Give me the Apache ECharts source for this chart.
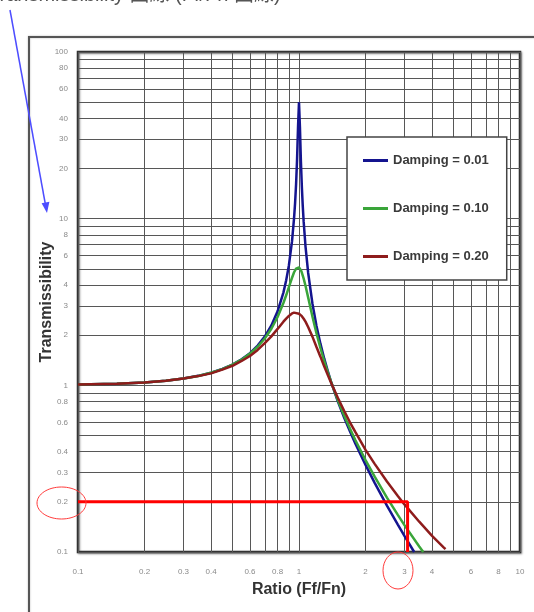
<!DOCTYPE html>
<html>
<head>
<meta charset="utf-8">
<style>
html,body{margin:0;padding:0;background:#fff;}
#chart{width:534px;height:612px;}
</style>
<script src="https://cdn.jsdelivr.net/npm/echarts@6/dist/echarts.min.js"></script>
</head>
<body>
<div id="chart"></div>
<script>
// ---- data ----
const seriesNames = ['Damping = 0.01', 'Damping = 0.10', 'Damping = 0.20'];

const ratio01 = [0.1,0.15,0.2,0.25,0.3,0.35,0.4,0.45,0.5,0.55,0.6,0.65,0.7,0.75,0.8,0.85,0.875,0.9,0.93,0.95,0.96,0.97,0.98,0.99,1.0,1.01,1.02,1.03,1.04,1.05,1.07,1.1,1.15,1.2,1.25,1.3,1.35,1.4,1.5,1.6,1.7,1.8,2,2.2,2.5,2.8,3,3.32];
const trans01 = [1.01,1.023,1.04,1.067,1.10,1.14,1.19,1.254,1.33,1.434,1.56,1.732,1.96,2.286,2.78,3.60,4.27,5.24,7.33,10.1,12.4,16.1,22.6,35.6,50,35.1,22.1,15.6,11.9,9.56,6.83,4.74,3.10,2.27,1.778,1.45,1.216,1.04,0.80,0.641,0.53,0.446,0.333,0.260,0.19,0.146,0.125,0.1];

const ratio10 = [0.1,0.15,0.2,0.25,0.3,0.35,0.4,0.45,0.5,0.55,0.6,0.65,0.7,0.75,0.8,0.85,0.875,0.9,0.93,0.95,0.97,0.98,1.0,1.02,1.03,1.05,1.07,1.1,1.15,1.2,1.25,1.3,1.35,1.4,1.5,1.6,1.7,1.8,2,2.2,2.5,2.8,3,3.5,3.65];
const trans10 = [1.01,1.023,1.04,1.066,1.10,1.139,1.19,1.251,1.33,1.425,1.55,1.704,1.91,2.186,2.57,3.12,3.47,3.88,4.42,4.77,5.02,5.10,5.10,4.91,4.75,4.37,3.96,3.37,2.59,2.05,1.675,1.40,1.197,1.04,0.81,0.659,0.55,0.4685,0.356,0.283,0.212,0.167,0.145,0.108,0.100];

const ratio20 = [0.1,0.15,0.2,0.25,0.3,0.35,0.4,0.45,0.5,0.55,0.6,0.65,0.7,0.75,0.8,0.85,0.875,0.9,0.93,0.95,0.97,1.0,1.03,1.05,1.07,1.1,1.15,1.2,1.25,1.3,1.35,1.4,1.5,1.6,1.7,1.8,2,2.2,2.5,2.8,3,3.5,4,4.5,4.6];
const trans20 = [1.01,1.023,1.04,1.066,1.10,1.136,1.18,1.243,1.31,1.40,1.50,1.631,1.79,1.968,2.18,2.41,2.515,2.61,2.70,2.73,2.73,2.69,2.60,2.51,2.41,2.24,1.96,1.70,1.486,1.30,1.155,1.03,0.84,0.704,0.60,0.524,0.41,0.338,0.265,0.217,0.193,0.152,0.125,0.107,0.104];

// red guide (annotation) line
const guideX = [0.1, 3.1, 3.1];
const guideY = [0.2, 0.2, 0.1];

// tick / grid values
const xLabelValues = [0.1,0.2,0.3,0.4,0.6,0.8,1,2,3,4,6,8,10];
const xGridValues  = [0.1,0.2,0.3,0.4,0.5,0.6,0.7,0.8,0.9,1,2,3,4,5,6,7,8,9,10];
const yLabelValues = [0.1,0.2,0.3,0.4,0.6,0.8,1,2,3,4,6,8,10,20,30,40,60,80,100];
const yGridValues  = [0.1,0.2,0.3,0.4,0.5,0.6,0.7,0.8,0.9,1,2,3,4,5,6,7,8,9,10,20,30,40,50,60,70,80,90,100];

const pairs = (xs, ys) => xs.map((x, i) => [x, ys[i]]);
const fmt = v => String(+Number(v).toPrecision(3));

const chart = echarts.init(document.getElementById('chart'), null, {renderer: 'canvas'});
const gridColor = '#575757';
const font = 'Liberation Sans, Arial, sans-serif';

chart.setOption({
  animation: false,
  backgroundColor: '#fff',
  grid: {
    left: 78, top: 52, right: 14, bottom: 60,
    show: true, backgroundColor: '#fff',
    borderColor: '#333', borderWidth: 2.5,
    shadowColor: 'rgba(0,0,0,0.35)', shadowBlur: 2, shadowOffsetX: 1, shadowOffsetY: 1
  },
  legend: {
    data: seriesNames.map(n => ({name: n, icon: 'rect'})),
    orient: 'vertical',
    left: 347, top: 137,
    padding: [17, 18, 17, 16],
    itemGap: 35,
    itemWidth: 25, itemHeight: 3,
    backgroundColor: '#fff',
    borderColor: '#444', borderWidth: 1.5,
    textStyle: {fontFamily: font, fontSize: 13, fontWeight: 'bold', color: '#3a3a3a'}
  },
  xAxis: {
    type: 'log', logBase: 10, min: 0.1, max: 10,
    name: 'Ratio (Ff/Fn)', nameLocation: 'middle', nameGap: 30, nameMoveOverlap: false,
    nameTextStyle: {fontFamily: font, fontSize: 16, fontWeight: 'bold', color: '#333'},
    axisLine: {show: false},
    axisTick: {show: false, customValues: xGridValues},
    axisLabel: {customValues: xLabelValues, formatter: fmt, fontSize: 8, color: '#8a8a8a', margin: 16, fontFamily: font},
    splitLine: {show: true, lineStyle: {color: gridColor, width: 1}},
    minorSplitLine: {show: false}
  },
  yAxis: {
    type: 'log', logBase: 10, min: 0.1, max: 100,
    name: 'Transmissibility', nameLocation: 'middle', nameGap: 23, nameRotate: 90, nameMoveOverlap: false,
    nameTextStyle: {fontFamily: font, fontSize: 16, fontWeight: 'bold', color: '#333'},
    axisLine: {show: false},
    axisTick: {show: false, customValues: yGridValues},
    axisLabel: {customValues: yLabelValues, formatter: fmt, fontSize: 8, color: '#8a8a8a', margin: 10, fontFamily: font},
    splitLine: {show: true, lineStyle: {color: gridColor, width: 1}},
    minorSplitLine: {show: false}
  },
  series: [
    {name: seriesNames[0], type: 'line', data: pairs(ratio01, trans01), symbol: 'none', smooth: false,
      lineStyle: {color: '#14148f', width: 2.5}, itemStyle: {color: '#14148f'}, z: 3},
    {name: seriesNames[1], type: 'line', data: pairs(ratio10, trans10), symbol: 'none', smooth: false,
      lineStyle: {color: '#3aa53a', width: 2.5}, itemStyle: {color: '#3aa53a'}, z: 4},
    {name: seriesNames[2], type: 'line', data: pairs(ratio20, trans20), symbol: 'none', smooth: false,
      lineStyle: {color: '#8e1c1c', width: 2.5}, itemStyle: {color: '#8e1c1c'}, z: 5},
    {name: 'guide', type: 'line', data: pairs(guideX, guideY), symbol: 'none', silent: true,
      lineStyle: {color: '#ff0000', width: 3}, z: 6}
  ],
  graphic: [
    {type: 'rect', z: -10, shape: {x: 29, y: 37, width: 530, height: 620},
      style: {fill: 'none', stroke: '#555', lineWidth: 2, shadowColor: 'rgba(0,0,0,0.3)', shadowBlur: 2}},
    {type: 'text', z: 10, left: -12, top: -15,
      style: {text: 'Transmissibility 曲線 (Ff/Fn 曲線)', fontSize: 20, fill: '#555',
        fontFamily: 'Liberation Sans, Noto Sans CJK TC, sans-serif'}},
    {type: 'ellipse', z: 20, shape: {cx: 61.5, cy: 503, rx: 24.5, ry: 16},
      style: {fill: 'none', stroke: '#ff3b3b', lineWidth: 1}},
    {type: 'ellipse', z: 20, shape: {cx: 398, cy: 570.5, rx: 15, ry: 18.5},
      style: {fill: 'none', stroke: '#ff3b3b', lineWidth: 1}},
    {type: 'line', z: 20, shape: {x1: 10, y1: 10, x2: 45.5, y2: 205},
      style: {stroke: '#4d4dff', lineWidth: 1.5}},
    {type: 'polygon', z: 20, shape: {points: [[47, 213], [49.4, 201.8], [41.6, 203.2]]},
      style: {fill: '#4d4dff'}}
  ]
});
</script>
</body>
</html>
